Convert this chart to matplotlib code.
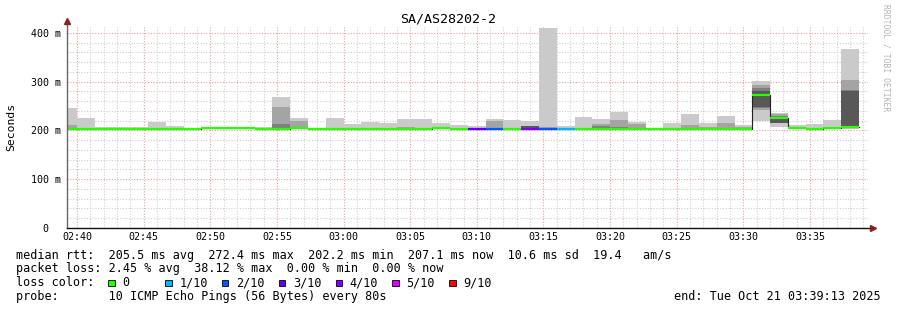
import numpy as np
import matplotlib
matplotlib.use("Agg")
import matplotlib.pyplot as plt
from matplotlib.patches import Rectangle

W, H = 897, 310

title = "SA/AS28202-2"
# first bin starts 02:38:40, one bin per 80 s probe round (minutes relative to 02:40)
first_bin = -80 / 60
step = 80 / 60

# 10 sorted ping rtts (ms) per bin
pings = [
    [202.3, 202.6, 202.8, 203.0, 203.1, 203.3, 203.5, 204.0, 211.0, 246.0],
    [202.3, 202.6, 202.8, 203.0, 203.1, 203.3, 203.5, 204.0, 204.5, 225.6],
    [202.3, 202.6, 202.8, 203.0, 203.1, 203.3, 203.5, 204.0, 204.5, 207.0],
    [202.3, 202.6, 202.8, 203.0, 203.1, 203.3, 203.5, 204.0, 204.5, 207.0],
    [202.3, 202.6, 202.8, 203.0, 203.1, 203.3, 203.5, 204.0, 204.5, 207.0],
    [202.3, 202.6, 202.8, 203.0, 203.1, 203.3, 203.5, 204.0, 204.5, 217.5],
    [202.3, 202.6, 202.8, 203.0, 203.1, 203.3, 203.5, 204.0, 204.5, 209.0],
    [202.3, 202.6, 202.8, 203.0, 203.1, 203.3, 203.5, 204.0, 204.5, 205.0],
    [203.0, 203.4, 203.7, 204.0, 204.3, 204.6, 205.0, 205.5, 206.0, 208.0],
    [203.0, 203.4, 203.7, 204.0, 204.3, 204.6, 205.0, 205.5, 206.0, 208.0],
    [203.0, 203.4, 203.7, 204.0, 204.3, 204.6, 205.0, 205.5, 206.0, 208.0],
    [202.5, 202.8, 203.0, 203.3, 203.4, 203.6, 203.8, 204.2, 204.8, 207.0],
    [202.5, 203.0, 203.3, 203.6, 203.8, 204.0, 204.3, 213.5, 247.0, 269.0],
    [202.8, 203.2, 203.5, 203.8, 204.0, 204.2, 204.5, 205.0, 220.0, 225.6],
    [202.3, 202.6, 202.8, 203.0, 203.1, 203.3, 203.5, 203.8, 204.0, 204.5],
    [202.3, 202.6, 202.8, 203.0, 203.1, 203.3, 203.5, 204.0, 204.5, 225.0],
    [202.3, 202.6, 202.8, 203.0, 203.1, 203.3, 203.5, 204.0, 204.5, 213.0],
    [202.3, 202.6, 202.8, 203.0, 203.1, 203.3, 203.5, 204.0, 204.5, 217.0],
    [202.3, 202.6, 202.8, 203.0, 203.1, 203.3, 203.5, 204.0, 204.5, 215.5],
    [202.3, 202.6, 202.8, 203.0, 203.1, 203.3, 203.5, 204.0, 208.0, 223.5],
    [202.3, 202.6, 202.8, 203.0, 203.1, 203.3, 203.5, 204.0, 204.5, 223.5],
    [203.0, 203.4, 203.7, 204.0, 204.3, 204.6, 205.0, 205.5, 206.0, 216.0],
    [202.3, 202.6, 202.8, 203.0, 203.1, 203.3, 203.5, 204.0, 204.5, 211.0],
    [202.3, 202.6, 202.8, 203.0, 203.1, 203.3, 203.5, 204.0, 204.5, 209.0],
    [202.3, 202.6, 202.8, 203.0, 203.1, 203.3, 203.5, 204.0, 219.5, 223.0],
    [202.3, 202.6, 202.8, 203.0, 203.1, 203.3, 203.5, 204.0, 204.5, 221.0],
    [202.3, 202.6, 202.8, 203.0, 203.1, 203.3, 209.0, 209.0, 209.0, 219.5],
    [202.3, 202.6, 202.8, 203.0, 203.1, 203.3, 203.5, 204.0, 207.0, 410.0],
    [202.3, 202.6, 202.8, 203.0, 203.1, 203.3, 203.5, 204.0, 204.5, 209.0],
    [202.3, 202.6, 202.8, 203.0, 203.1, 203.3, 203.5, 204.0, 204.5, 228.0],
    [202.3, 202.6, 202.8, 203.0, 203.1, 203.3, 203.5, 209.0, 213.0, 223.5],
    [202.3, 202.6, 202.8, 203.0, 203.1, 203.3, 203.5, 207.5, 221.5, 238.6],
    [202.3, 202.6, 202.8, 203.0, 203.1, 203.3, 203.5, 204.0, 213.0, 218.0],
    [202.3, 202.6, 202.8, 203.0, 203.1, 203.3, 203.5, 204.0, 204.2, 204.5],
    [202.3, 202.6, 202.8, 203.0, 203.1, 203.3, 203.5, 204.0, 204.5, 216.0],
    [202.3, 202.6, 202.8, 203.0, 203.1, 203.3, 203.5, 204.0, 211.0, 234.0],
    [202.3, 202.6, 202.8, 203.0, 203.1, 203.3, 203.5, 204.0, 207.0, 215.0],
    [202.3, 202.6, 202.8, 203.0, 203.1, 203.3, 203.5, 204.0, 216.0, 230.0],
    [202.3, 202.6, 202.8, 203.0, 203.1, 203.3, 203.5, 204.0, 207.0, 211.0],
    [219.5, 242.0, 246.0, 249.0, 271.0, 274.0, 280.0, 286.5, 293.0, 301.5],
    [208.0, 214.5, 214.8, 215.0, 224.0, 227.0, 228.0, 229.0, 234.0, 236.5],
    [203.0, 203.4, 203.7, 204.0, 204.3, 204.6, 205.0, 205.5, 206.0, 211.0],
    [201.3, 201.6, 201.8, 202.0, 202.1, 202.3, 202.5, 203.0, 203.5, 212.6],
    [202.8, 203.2, 203.5, 203.8, 204.0, 204.2, 204.5, 205.0, 205.5, 221.5],
    [202.0, 204.0, 206.0, 207.0, 207.5, 208.5, 280.0, 283.0, 303.6, 367.0],
]

median = [203.2, 203.2, 203.2, 203.2, 203.2, 203.2, 203.2, 203.2,
          204.5, 204.5, 204.5, 203.5, 203.8, 204.0,
          203.2, 203.2, 203.2, 203.2, 203.2, 203.2, 203.2,
          204.5, 203.2, 203.2, 203.2, 203.2, 203.2, 203.2, 203.2,
          203.2, 203.2, 203.2, 203.2, 203.2, 203.2, 203.2, 203.2, 203.2, 203.2,
          272.4, 226.0, 204.5, 202.2, 204.0, 207.1]

# lost pings out of 10 per bin
loss = [0] * 23 + [3, 2, 0, 4, 2, 1] + [0] * 16

loss_labels = ["0", "1/10", "2/10", "3/10", "4/10", "5/10", "9/10"]
loss_colors = ["#26ff00", "#00b8ff", "#0059ff", "#5e00ff", "#7e00ff", "#dd00ff", "#ff0000"]
smoke_grays = ["#cacaca", "#a4a4a4", "#7e7e7e", "#585858", "#323232"]

xtick_labels = ["02:40", "02:45", "02:50", "02:55", "03:00", "03:05",
                "03:10", "03:15", "03:20", "03:25", "03:30", "03:35"]
ytick_vals = [0, 100, 200, 300, 400]
ytick_labels = ["0  ", "100 m", "200 m", "300 m", "400 m"]

rtt_line = "median rtt:  205.5 ms avg  272.4 ms max  202.2 ms min  207.1 ms now  10.6 ms sd  19.4   am/s"
loss_line = "packet loss: 2.45 % avg  38.12 % max  0.00 % min  0.00 % now"
probe_line = "probe:       10 ICMP Echo Pings (56 Bytes) every 80s"
end_line = "end: Tue Oct 21 03:39:13 2025"

plt.rcParams["font.family"] = ["DejaVu Sans Mono"]

fig = plt.figure(figsize=(W / 100, H / 100), dpi=100)
fig.patch.set_facecolor("white")
ax = fig.add_axes([67 / W, 82 / H, 801 / W, 202 / H])

p = np.array(pings)
med = np.array(median)
starts = first_bin + step * np.arange(len(p))

# smoke: pairs of sorted pings, outer pair lightest
for i, c in enumerate(smoke_grays):
    lo, hi = p[:, i], p[:, 9 - i]
    ax.bar(starts, hi - lo, bottom=lo, width=step, align="edge",
           color=c, linewidth=0, zorder=1 + i * 0.01)

# black median step underneath, then loss coloured segments
xs = np.append(starts, starts[-1] + step)
ax.step(xs, np.append(med, med[-1]), where="post", color="#202020", lw=0.8, zorder=4)
cols = [loss_colors[min(l, 6)] for l in loss]
ax.hlines(med, starts, starts + step, colors=cols, lw=1.6, zorder=5, capstyle="butt")

ax.set_xlim(-0.75, 59.35)
ax.set_ylim(0, 414)

ax.set_xticks(np.arange(len(xtick_labels)) * 5)
ax.set_xticklabels(xtick_labels)
ax.set_xticks(np.arange(0, 60, 1), minor=True)
ax.set_yticks(ytick_vals)
ax.set_yticklabels(ytick_labels)
ax.set_yticks(np.arange(0, 414, 20), minor=True)

ax.set_axisbelow(True)
ax.grid(which="minor", color="#cfcfcf", lw=0.8, linestyle=(0, (1, 1.5)))
ax.grid(which="major", color="#f29a9a", lw=0.8, linestyle=(0, (1, 1.5)))
ax.tick_params(which="both", length=0, labelsize=7.2, colors="black")
ax.tick_params(axis="x", pad=3)
ax.tick_params(axis="y", pad=4.5)

for s in ax.spines.values():
    s.set_visible(False)

# axes with arrows, rrdtool style
ax.plot([0, 0], [0, 1.02], transform=ax.transAxes, color="#666666", lw=1, clip_on=False, zorder=6)
ax.plot([0, 1.004], [0, 0], transform=ax.transAxes, color="#111111", lw=1, clip_on=False, zorder=6)
ax.plot([0], [1.025], transform=ax.transAxes, marker="^", ms=4, color="#8a2020", clip_on=False, zorder=7)
ax.plot([1.006], [0], transform=ax.transAxes, marker=">", ms=4, color="#8a2020", clip_on=False, zorder=7)

def fx(x):
    return x / W

def fy(y):
    return 1 - y / H

fig.text(fx(448), fy(19), title, ha="center", va="center", fontsize=9.6)
fig.text(fx(11), fy(127), "Seconds", rotation=90, ha="center", va="center", fontsize=8.2)
fig.text(fx(886), fy(4), "RRDTOOL / TOBI OETIKER", rotation=270, ha="center", va="top",
         fontsize=5.8, color="#b4b4b4")

cw = 7.1
x0 = 16
fs = 8.5
fig.text(fx(x0), fy(255), rtt_line, ha="left", va="center", fontsize=fs)
fig.text(fx(x0), fy(268.5), loss_line, ha="left", va="center", fontsize=fs)
fig.text(fx(x0), fy(282.5), "loss color:", ha="left", va="center", fontsize=fs)
for j, (lab, c) in enumerate(zip(loss_labels, loss_colors)):
    bx = x0 + (13 + 8 * j) * cw
    fig.add_artist(Rectangle((fx(bx), fy(286)), 6.5 / W, 6.5 / H, transform=fig.transFigure,
                             facecolor=c, edgecolor="black", lw=0.6))
    fig.text(fx(x0 + (15 + 8 * j) * cw), fy(282.5), lab, ha="left", va="center", fontsize=fs)
fig.text(fx(x0), fy(296.5), probe_line, ha="left", va="center", fontsize=fs)
fig.text(fx(881), fy(296.5), end_line, ha="right", va="center", fontsize=fs)

fig.savefig("out.png", dpi=100, facecolor="white")
